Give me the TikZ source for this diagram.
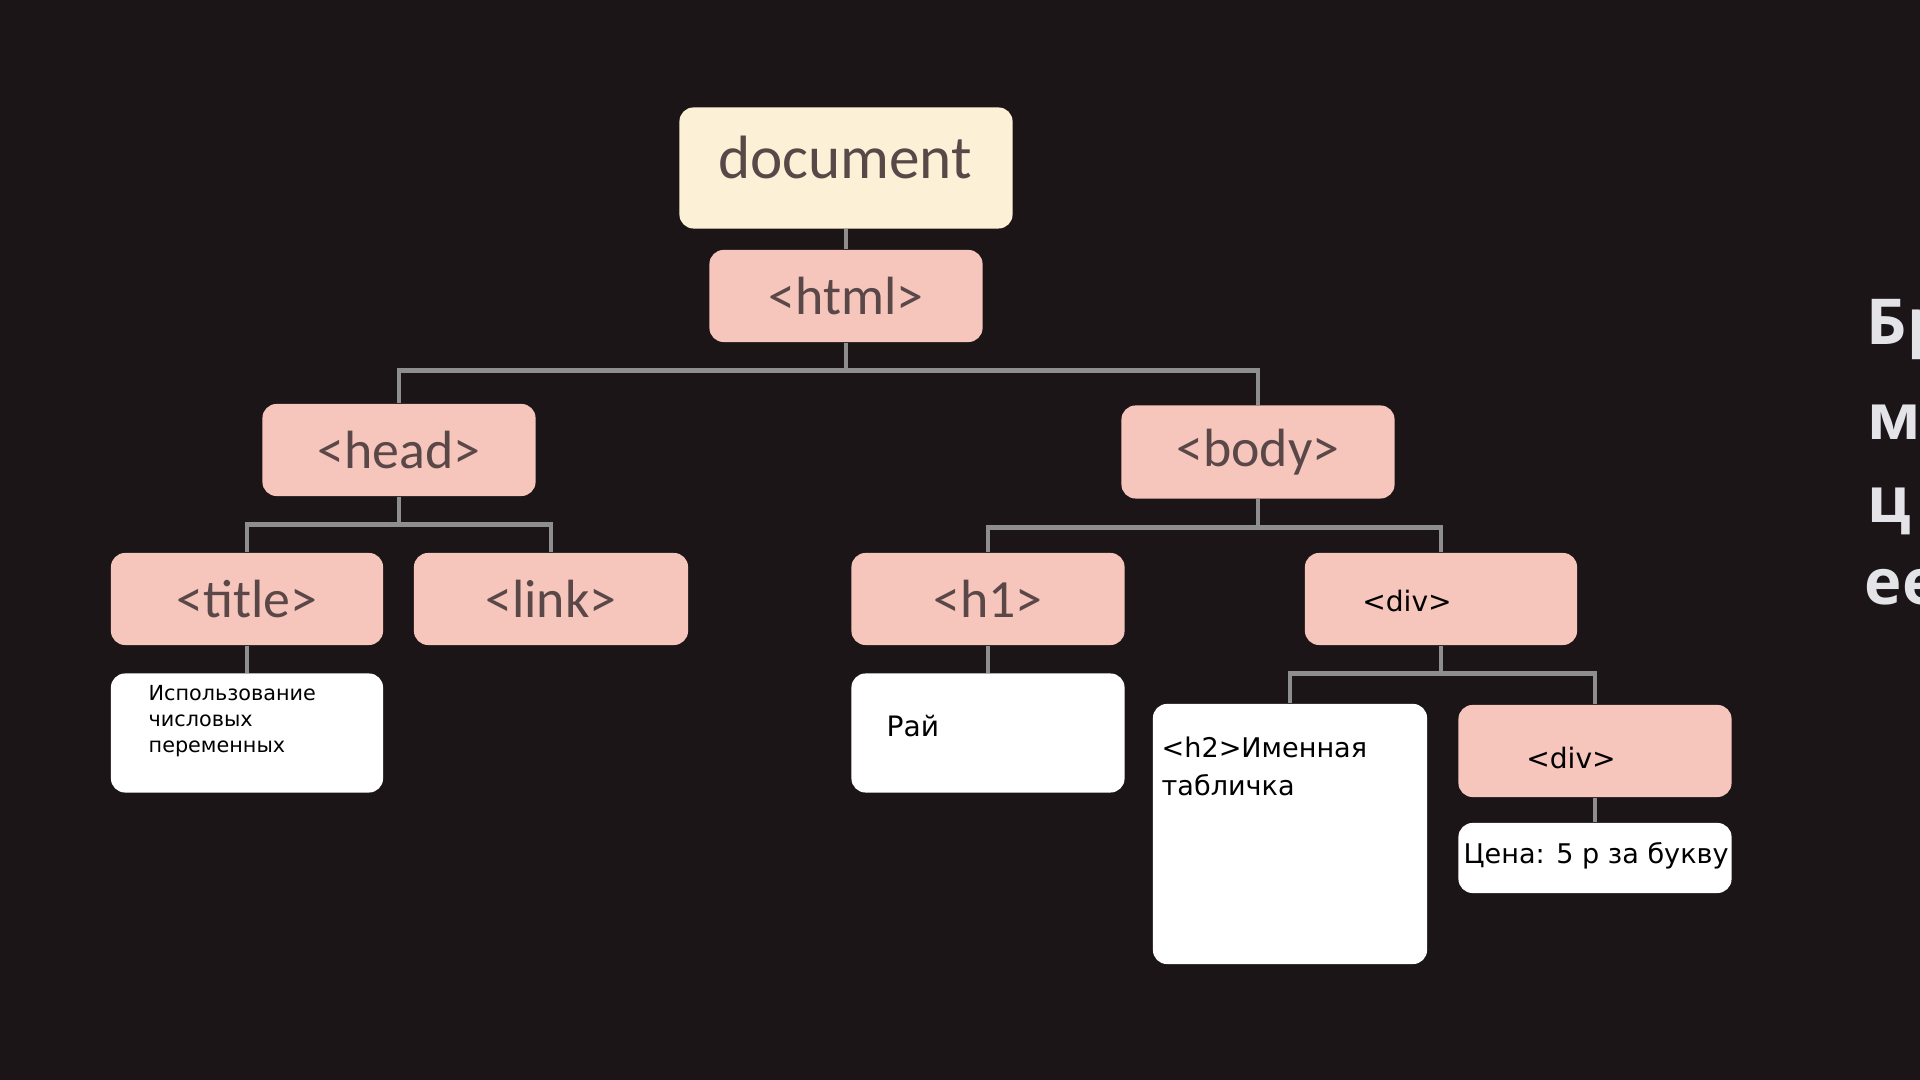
\documentclass[tikz,border=0pt]{standalone}
\usepackage{fontspec}
\newfontfamily\tagfont{Carlito}
\newfontfamily\notefont{DejaVu Sans}
\newfontfamily\sidefont{Open Sans}

\definecolor{bgdark}{HTML}{1B1517}
\definecolor{tagpink}{HTML}{F6C5BC}
\definecolor{doccream}{HTML}{FCF1D6}
\definecolor{wiregray}{HTML}{8E8E8E}
\definecolor{tagtext}{HTML}{5A4848}
\definecolor{sidetext}{HTML}{E4E4E8}

\tikzset{
  tag/.style={rectangle, rounded corners=4pt, fill=tagpink, inner sep=0pt,
              minimum width=2.73cm, minimum height=0.92cm, text=tagtext,
              font=\tagfont\fontsize{15.3}{18}\selectfont},
  doc/.style={tag, fill=doccream, minimum width=3.33cm, minimum height=1.21cm},
  leaf/.style={tag, fill=white, minimum height=1.19cm},
  note/.style={inner sep=0pt, text=black, align=left,
               font=\notefont\fontsize{8}{10}\selectfont},
  side/.style={inner sep=0pt, text=sidetext, anchor=base west,
               font=\sidefont\bfseries\fontsize{18}{20}\selectfont},
  wire/.style={draw=wiregray, line width=1.3pt},
  elbow/.style={to path={(\tikztostart) -- ++(0,28) -| (\tikztotarget)}}
}

\begin{document}
\begin{tikzpicture}[x=0.01cm, y=-0.01cm]
\useasboundingbox (0,0) rectangle (1920,1080);
\clip (0,0) rectangle (1920,1080);
\fill[bgdark] (0,0) rectangle (1920,1080);

% tree
\node[doc] (doc) at (846,168) {};
\node[tag] (html) at (846,296) {<html>};
\node[tag] (head) at (399,450) {<head>};
\node[tag, minimum height=0.93cm] (body) at (1258,452) {<body>};
\node[tag, minimum width=2.72cm] (title) at (247,599) {<title>};
\node[tag, minimum width=2.74cm] (link) at (551,599) {<link>};
\node[tag] (h1) at (988,599) {<h1>};
\node[tag, minimum width=2.72cm] (div) at (1441,599) {};
\node[leaf, minimum width=2.72cm] (titleleaf) at (247,733) {};
\node[leaf] (h1leaf) at (988,733) {};
\node[leaf, minimum width=2.74cm, minimum height=2.6cm] (h2leaf) at (1290,834) {};
\node[tag] (subdiv) at (1595,751) {};
\node[leaf, minimum height=0.7cm] (price) at (1595,858) {};

\node[text=tagtext, font=\tagfont\fontsize{17.4}{20}\selectfont] (doclabel) at (845,157) {document};

% texts
\node[note] (divlabel) at (1407,601) {<div>};
\node[note] (subdivlabel) at (1571,758) {<div>};
\node[note, anchor=north west, font=\notefont\fontsize{5.9}{7.3}\selectfont] (titlenote) at (148,685) {Использование\\числовых\\переменных};
\node[note, anchor=west] (h1note) at (886,726) {Рай};
\node[note, anchor=north west, font=\notefont\fontsize{7.7}{10.8}\selectfont] (h2note) at (1161,736) {<h2>Именная\\табличка};
\node[note, anchor=west, font=\notefont\fontsize{7.7}{10}\selectfont] (pricenote) at (1463,856) {Цена: 5 р за букву};

% connectors
\draw[wire] (doc.south) -- (html.north);
\draw[wire] (html.south) to[elbow] (head.north)
            (html.south) to[elbow] (body.north);
\draw[wire] (head.south) to[elbow] (title.north)
            (head.south) to[elbow] (link.north);
\draw[wire] (body.south) to[elbow] (h1.north)
            (body.south) to[elbow] (div.north);
\draw[wire] (div.south) to[elbow] (h2leaf.north)
            (div.south) to[elbow] (subdiv.north);
\draw[wire] (title.south) -- (titleleaf.north);
\draw[wire] (h1.south) -- (h1leaf.north);
\draw[wire] (subdiv.south) -- (price.north);

% cut-off side text
\node[side] (side1) at (1866,345) {Бр};
\node[side] (side2) at (1867,440) {м};
\node[side] (side3) at (1867,523) {ц};
\node[side] (side4) at (1864,605) {ее};
\end{tikzpicture}
\end{document}
